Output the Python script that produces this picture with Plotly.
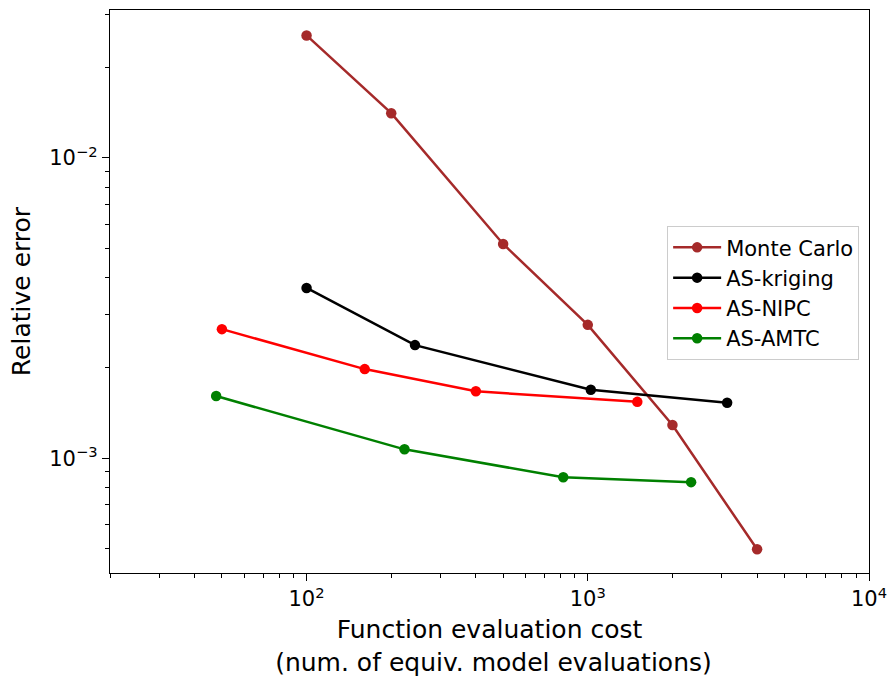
import plotly.graph_objects as go
import numpy as np

mc_x = [100, 200, 500, 1000, 2000, 4000]
mc_y = [0.0256, 0.0141, 0.00517, 0.00278, 0.00129, 0.000497]

kr_x = [100, 243, 1025, 3130]
kr_y = [0.00369, 0.00238, 0.00169, 0.00153]

nipc_x = [50, 161, 400, 1500]
nipc_y = [0.00269, 0.00198, 0.00167, 0.00154]

amtc_x = [47.7, 223, 818, 2330]
amtc_y = [0.00161, 0.00107, 0.000864, 0.000832]

series = [
    ("Monte Carlo", mc_x, mc_y, "#a52a2a"),
    ("AS-kriging", kr_x, kr_y, "#000000"),
    ("AS-NIPC", nipc_x, nipc_y, "#ff0000"),
    ("AS-AMTC", amtc_x, amtc_y, "#008000"),
]

fig = go.Figure()
for name, x, y, c in series:
    fig.add_trace(go.Scatter(x=x, y=y, name=name, mode="lines+markers",
                             line=dict(color=c, width=2.5),
                             marker=dict(color=c, size=10.5)))

font = "DejaVu Sans"
fig.update_layout(
    width=888, height=677,
    margin=dict(l=110, r=19, t=9.5, b=103.5, autoexpand=False),
    paper_bgcolor="white", plot_bgcolor="white",
    font=dict(family=font, size=21, color="black"),
    showlegend=True,
    legend=dict(x=0.987, y=0.616, xanchor="right", yanchor="top",
                bgcolor="rgba(255,255,255,0.8)", bordercolor="#cccccc", borderwidth=1,
                font=dict(size=21), tracegroupgap=0, itemwidth=48),
    xaxis=dict(type="log", range=[np.log10(20), 4], automargin=False,
               showline=True, mirror=True, linecolor="black", linewidth=1.3,
               showgrid=False, zeroline=False,
               ticks="outside", ticklen=7, tickwidth=1.3, tickcolor="black",
               tickvals=[100, 1000, 10000],
               ticktext=["10<sup>2</sup>", "10<sup>3</sup>", "10<sup>4</sup>"],
               tickfont=dict(size=21),
               minor=dict(ticks="outside", ticklen=4, tickwidth=1, tickcolor="black",
                          dtick="D1", showgrid=False),
               title=dict(text="Function evaluation cost<br> (num. of equiv. model evaluations)",
                          font=dict(size=25), standoff=20)),
    yaxis=dict(type="log", range=[-3.3826, -1.507], automargin=False,
               showline=True, mirror=True, linecolor="black", linewidth=1.3,
               showgrid=False, zeroline=False,
               ticks="outside", ticklen=7, tickwidth=1.3, tickcolor="black",
               tickvals=[0.001, 0.01],
               ticktext=["10<sup>−3</sup>", "10<sup>−2</sup>"],
               tickfont=dict(size=21),
               minor=dict(ticks="outside", ticklen=4, tickwidth=1, tickcolor="black",
                          dtick="D1", showgrid=False),
               title=dict(text="Relative error", font=dict(size=25), standoff=11)),
)

fig.write_html("out.html")
